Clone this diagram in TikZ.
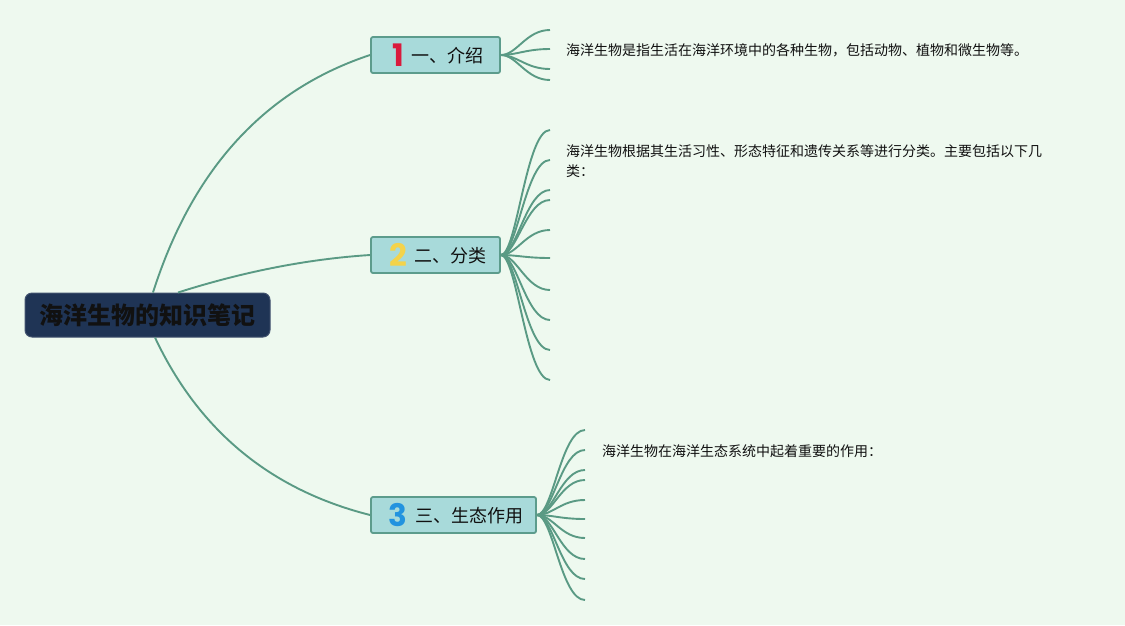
\documentclass[tikz,border=0pt]{standalone}
\usepackage{fontspec}
\setmainfont{Noto Sans CJK SC}
\newfontfamily\cjk{Noto Sans CJK SC}
\newfontfamily\numfont{Poppins}
\usetikzlibrary{calc}
\definecolor{bgc}{HTML}{EEF9EF}
\definecolor{lnc}{HTML}{5A9A84}
\definecolor{brf}{HTML}{A8DADA}
\definecolor{brd}{HTML}{5C9C8C}
\definecolor{rootf}{HTML}{1F3455}
\definecolor{numa}{HTML}{D91A3C}
\definecolor{numb}{HTML}{F4D34A}
\definecolor{numc}{HTML}{2293DF}
\definecolor{txt}{HTML}{111111}
\tikzset{
  conn/.style={draw=lnc, line width=1.9pt},
  rootbox/.style={fill=rootf, draw=rootf!85!white, line width=1pt, rounded corners=7pt,
    minimum width=245pt, minimum height=44pt, inner sep=0pt,
    font=\cjk\bfseries\fontsize{24}{24}\selectfont, text=txt},
  branchbox/.style={fill=brf, draw=brd, line width=1.8pt, rounded corners=2pt,
    minimum height=36pt, inner sep=0pt, text=txt,
    font=\cjk\fontsize{18}{18}\selectfont},
  leaftext/.style={inner sep=0pt, text=txt, align=left,
    font=\cjk\fontsize{14}{20}\selectfont},
}
\newcommand{\bnum}[2]{\hspace*{5pt}\raisebox{-4pt}{\numfont\bfseries\fontsize{31}{31}\selectfont\color{#1}#2}\hspace{8pt}}
\begin{document}
\begin{tikzpicture}[x=1pt,y=-1pt]
\fill[bgc] (0,0) rectangle (1125,625);
\useasboundingbox (0,0) rectangle (1125,625);

% root and branches
\node[rootbox] (root) at (147.5,315) {海洋生物的知识笔记};
\node[branchbox, minimum width=129pt] (b1) at (435.5,55) {\bnum{numa}{1}一、介绍};
\node[branchbox, minimum width=129pt] (b2) at (435.5,255) {\bnum{numb}{2}二、分类};
\node[branchbox, minimum width=165pt] (b3) at (453.5,515) {\bnum{numc}{3}三、生态作用};

% root connectors
\coordinate (r1) at ([xshift=5.5pt]root.north);
\coordinate (r2) at ([xshift=30.5pt]root.north);
\coordinate (r3) at ([xshift=7.5pt]root.south);
\draw[conn] (r1) .. controls (192.3,169) and (265,89.7) .. (b1.west);
\draw[conn] (r2) .. controls (243.3,271.7) and (307.7,259) .. (b2.west);
\draw[conn] (r3) .. controls (199,431) and (271,490) .. (b3.west);

% leaf connectors
\foreach \y [count=\i] in {30,49,69,80} {
  \coordinate (la\i) at (550,\y);
  \draw[conn] (b1.east) .. controls +(16,0) and +(-24,0) .. (la\i);
}
\foreach \y [count=\i] in {130,160,190,200,230,258,290,320,350,380} {
  \coordinate (lb\i) at (550,\y);
  \draw[conn] (b2.east) .. controls +(16,0) and +(-24,0) .. (lb\i);
}
\foreach \y [count=\i] in {430,450,470,480,500,519,538,559,579,600} {
  \coordinate (lc\i) at (585,\y);
  \draw[conn] (b3.east) .. controls +(16,0) and +(-24,0) .. (lc\i);
}

% leaf texts
\node[leaftext, anchor=west] (t1) at (566,50) {海洋生物是指生活在海洋环境中的各种生物，包括动物、植物和微生物等。};
\node[leaftext, anchor=west] (t2) at (566,161) {海洋生物根据其生活习性、形态特征和遗传关系等进行分类。主要包括以下几\\类：};
\node[leaftext, anchor=west] (t3) at (602,451) {海洋生物在海洋生态系统中起着重要的作用：};
\end{tikzpicture}
\end{document}
